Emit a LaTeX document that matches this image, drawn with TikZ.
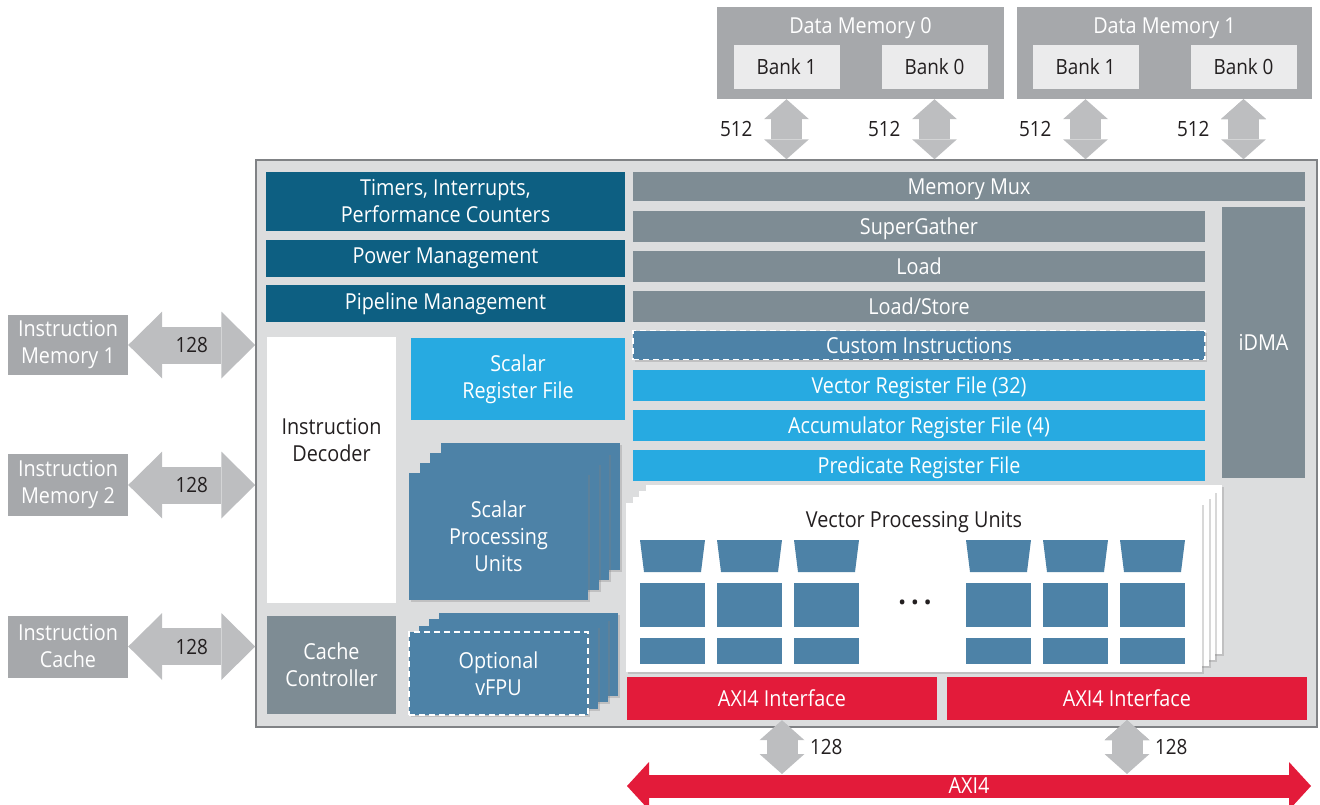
\documentclass[tikz,border=0pt]{standalone}
\usepackage{fontspec}
\setmainfont{Open Sans}[FakeStretch=0.9]
\usetikzlibrary{positioning,calc,arrows.meta,shadows}
\definecolor{memgray}{HTML}{A6A8AB}
\definecolor{bankgray}{HTML}{EBEBEC}
\definecolor{busgray}{HTML}{BDBEC0}
\definecolor{coregray}{HTML}{DCDDDE}
\definecolor{coreline}{HTML}{808285}
\definecolor{ctrlblue}{HTML}{0D5F82}
\definecolor{unitblue}{HTML}{4D82A7}
\definecolor{regblue}{HTML}{27AAE1}
\definecolor{lsgray}{HTML}{7E8C94}
\definecolor{axired}{HTML}{E31B3A}
\definecolor{txtdark}{HTML}{231F20}
\tikzset{B node/.style={rectangle,inner sep=0pt,align=center,text=white,font=\fontsize{22}{27}\selectfont},
	mem node/.style={B node,fill=memgray},
	bank node/.style={B node,fill=bankgray,text=txtdark,minimum width=106pt,minimum height=44pt,font=\fontsize{21}{26}\selectfont},
	core node/.style={B node,fill=coregray,draw=coreline,line width=1.5pt},
	ctrl node/.style={B node,fill=ctrlblue,minimum width=359pt},
	ls node/.style={B node,fill=lsgray},
	row node/.style={minimum width=572pt,minimum height=31pt,text depth=0pt},
	reg node/.style={B node,fill=regblue},
	unit node/.style={B node,fill=unitblue,drop shadow={shadow xshift=2pt,shadow yshift=-2pt,opacity=.3}},
	opt node/.style={draw=white,line width=1.5pt,dash pattern=on 6pt off 4pt},
	vpu node/.style={B node,fill=white,minimum width=576pt,minimum height=169pt,drop shadow={shadow xshift=2pt,shadow yshift=-2pt,opacity=.3}},
	axi node/.style={B node,fill=axired,minimum height=43pt},
	num/.style={inner sep=0pt,outer sep=0pt,text=txtdark,font=\fontsize{21}{26}\selectfont},
	dbus/.style={draw,busgray,line width=31pt,{Triangle[length=20pt,width=45pt,line width=0pt]}-{Triangle[length=20pt,width=45pt,line width=0pt]}},
	ibus/.style={draw,busgray,line width=37pt,{Triangle[length=34pt,width=67pt,line width=0pt]}-{Triangle[length=34pt,width=67pt,line width=0pt]}},
	axibus/.style={draw,axired,line width=23pt,{Triangle[length=22pt,width=48pt,line width=0pt]}-{Triangle[length=22pt,width=48pt,line width=0pt]}},
}

\begin{document}
\begin{tikzpicture}[x=1pt,y=-1pt]
	\useasboundingbox (0,0) rectangle (1320,804);
	\clip (0,0) rectangle (1320,804);

	% data memories
	\node[mem node,minimum width=287pt,minimum height=92pt] (dm0) at (860.5,53) {};
	\node[mem node,minimum width=295pt,minimum height=92pt] (dm1) at (1164.5,53) {};
	\node[B node] (dm0t) at (860.5,28) {Data Memory 0};
	\node[B node] (dm1t) at (1164.5,28) {Data Memory 1};
	\node[bank node] (b01) at (786.5,67) {Bank 1};
	\node[bank node] (b00) at (934.5,67) {Bank 0};
	\node[bank node] (b11) at (1085.5,67) {Bank 1};
	\node[bank node] (b10) at (1243.5,67) {Bank 0};

	% core
	\node[core node,minimum width=1061pt,minimum height=567pt] (core) at (786.5,443.5) {};

	\node[ctrl node,minimum height=59pt] (tim) at (445.5,201.5) {Timers, Interrupts,\\Performance Counters};
	\node[ctrl node,minimum height=37pt] (pwr) at (445.5,258.5) {Power Management};
	\node[ctrl node,minimum height=37pt] (pipe) at (445.5,303.5) {Pipeline Management};
	\node[B node,fill=white,minimum width=129pt,minimum height=266pt] (dec) at (331.5,470) {};
	\node[B node,text=txtdark] (dect) at (331.5,440) {Instruction\\Decoder};
	\node[reg node,minimum width=214pt,minimum height=82pt] (srf) at (518,379) {Scalar\\Register File};
	\node[ls node,minimum width=129pt,minimum height=98pt] (cc) at (331.5,665) {Cache\\Controller};

	\node[unit node,minimum width=179pt,minimum height=127pt] (spu3) at (530,506.5) {};
	\node[unit node,minimum width=179pt,minimum height=127pt] (spu2) at (519.5,516.5) {};
	\node[unit node,minimum width=179pt,minimum height=127pt] (spu1) at (509,526.5) {};
	\node[unit node,minimum width=179pt,minimum height=127pt] (spu) at (498.5,536.5) {Scalar\\Processing\\Units};

	\node[unit node,minimum width=179pt,minimum height=83pt] (fpu3) at (528.5,654) {};
	\node[unit node,minimum width=179pt,minimum height=83pt] (fpu2) at (518.5,660.5) {};
	\node[unit node,minimum width=179pt,minimum height=83pt] (fpu1) at (508.5,667) {};
	\node[unit node,opt node,minimum width=179pt,minimum height=83pt] (fpu) at (498.5,673.5) {Optional\\vFPU};

	\node[ls node,minimum width=672pt,minimum height=29pt,text depth=0pt] (mux) at (969,186.5) {Memory Mux};
	\node[ls node,row node] (sg) at (919,226) {SuperGather};
	\node[ls node,row node] (ld) at (919,266.5) {Load};
	\node[ls node,row node] (ls) at (919,306.5) {Load/Store};
	\node[unit node,opt node,row node,minimum height=29pt] (ci) at (919,345) {Custom Instructions};
	\node[reg node,row node] (vrf) at (919,385.5) {Vector Register File (32)};
	\node[reg node,row node] (arf) at (919,425.5) {Accumulator Register File (4)};
	\node[reg node,row node] (prf) at (919,465) {Predicate Register File};
	\node[ls node,minimum width=83pt,minimum height=271pt] (idma) at (1263.5,342.5) {iDMA};

	\node[vpu node] (vpu3) at (933.5,569.5) {};
	\node[vpu node] (vpu2) at (927,575.5) {};
	\node[vpu node] (vpu1) at (920.5,581.5) {};
	\node[vpu node] (vpu) at (914,587.5) {};
	\node[B node,text=txtdark] (vput) at (914,522) {Vector Processing Units};
	\foreach \x in {640,717,794,966,1043,1120} {
		\fill[unitblue] (\x,540) -- (\x+65,540) -- (\x+61,572) -- (\x+4,572) -- cycle;
		\fill[unitblue] (\x,583) rectangle ++(65,44);
		\fill[unitblue] (\x,638) rectangle ++(65,26);
	}
	\node[num,font=\fontsize{30}{30}\selectfont\bfseries] (dots) at (915,602) {.\,.\,.};

	\node[axi node,minimum width=310pt] (axi0) at (782,698.5) {AXI4 Interface};
	\node[axi node,minimum width=360pt] (axi1) at (1127,698.5) {AXI4 Interface};

	% instruction side
	\node[mem node,minimum width=120pt,minimum height=60pt] (im1) at (68,345) {Instruction\\Memory 1};
	\node[mem node,minimum width=120pt,minimum height=62pt] (im2) at (68,485) {Instruction\\Memory 2};
	\node[mem node,minimum width=120pt,minimum height=62pt] (ic) at (68,646.5) {Instruction\\Cache};

	\path[ibus]
		(im1) edge node [num] {128} (im1 -| core.west)
		(im2) edge node [num] {128} (im2 -| core.west)
		(ic) edge node [num] {128} (ic -| core.west);

	\path[dbus]
		(b01 |- dm0.south) edge node [num,left=34pt] {512} (b01 |- core.north)
		(b00 |- dm0.south) edge node [num,left=34pt] {512} (b00 |- core.north)
		(b11 |- dm1.south) edge node [num,left=34pt] {512} (b11 |- core.north)
		(b10 |- dm1.south) edge node [num,left=34pt] {512} (b10 |- core.north);

	% AXI4 bus
	\coordinate (busL) at (627,786);
	\coordinate (busR) at (1311,786);
	\path[dbus]
		(axi0.south) edge node [num,right=28pt] {128} ($(axi0.south |- busL)+(0,-12)$)
		(axi1.south) edge node [num,right=28pt] {128} ($(axi1.south |- busL)+(0,-12)$);
	\draw[axibus] (busL) -- node [B node] {AXI4} (busR);
\end{tikzpicture}
\end{document}
